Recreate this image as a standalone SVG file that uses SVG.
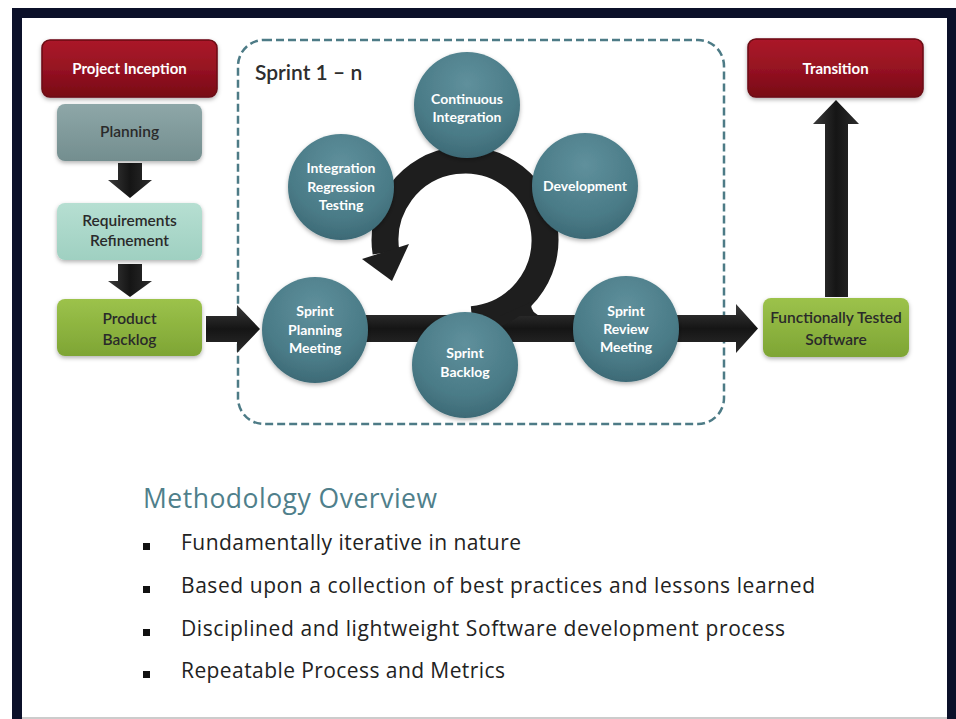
<svg xmlns="http://www.w3.org/2000/svg" width="956" height="719" viewBox="0 0 956 719">
<style>
.lbl{font-family:Lato,"Liberation Sans",sans-serif;text-anchor:middle}
.white{fill:#ffffff;font-weight:bold;font-size:15px}
.dark{fill:#2a2a2a;font-size:15.5px;font-weight:600}
.circ{fill:#ffffff;font-weight:bold;font-size:14px}
.body{font-family:"Open Sans","Liberation Sans",sans-serif;fill:#222;font-size:21px}
.arrow{fill:url(#gArrowH)}
.varrow{fill:url(#gArrowV)}
.bubble{fill:url(#gCirc);filter:url(#sh)}
</style>
<defs>
<linearGradient id="gRed" x1="0" y1="0" x2="0" y2="1"><stop offset="0" stop-color="#ab1729"/><stop offset="0.5" stop-color="#961222"/><stop offset="1" stop-color="#780a15"/></linearGradient>
<linearGradient id="gGray" x1="0" y1="0" x2="0" y2="1"><stop offset="0" stop-color="#8ea7a8"/><stop offset="1" stop-color="#738e8f"/></linearGradient>
<linearGradient id="gMint" x1="0" y1="0" x2="0" y2="1"><stop offset="0" stop-color="#b6dfd2"/><stop offset="1" stop-color="#9fd0c1"/></linearGradient>
<linearGradient id="gGreen" x1="0" y1="0" x2="0" y2="1"><stop offset="0" stop-color="#9cc24b"/><stop offset="1" stop-color="#7ea534"/></linearGradient>
<radialGradient id="gCirc" cx="0.5" cy="0.3" r="0.7"><stop offset="0" stop-color="#5f909c"/><stop offset="0.7" stop-color="#4a7b87"/><stop offset="1" stop-color="#3d6a76"/></radialGradient>
<linearGradient id="gArrowH" x1="0" y1="0" x2="0" y2="1"><stop offset="0" stop-color="#3a3a3a"/><stop offset="0.5" stop-color="#151515"/><stop offset="1" stop-color="#2c2c2c"/></linearGradient>
<linearGradient id="gArrowV" x1="0" y1="0" x2="1" y2="0"><stop offset="0" stop-color="#3a3a3a"/><stop offset="0.5" stop-color="#151515"/><stop offset="1" stop-color="#2c2c2c"/></linearGradient>
<filter id="sh" x="-20%" y="-20%" width="140%" height="150%"><feDropShadow dx="0" dy="2" stdDeviation="2" flood-color="#000" flood-opacity="0.3"/></filter>
</defs>

<rect x="0" y="0" width="956" height="719" fill="#ffffff"/>
<rect x="12" y="8" width="944" height="711" fill="#0b1029"/>
<rect x="22" y="18" width="925" height="701" fill="#ffffff"/>
<rect x="22" y="717" width="925" height="2" fill="#cccccc"/>

<g id="sprint-boundary">
<rect x="238" y="40" width="486" height="384" rx="26" fill="none" stroke="#4d7b86" stroke-width="2.5" stroke-dasharray="8 4"/>
<text x="255" y="80" style="font-family:Lato,'Liberation Sans',sans-serif;font-size:21px;fill:#2e2e2e;font-weight:600">Sprint 1 – n</text>
</g>

<g id="connectors">
<path class="varrow" d="M118 163H142V180H152L130 198L108 180H118Z"/>
<path class="varrow" d="M118 264H142V281H152L130 297L108 281H118Z"/>
<path class="arrow" d="M206 316H237V305L260 329L237 353V342H206Z"/>
<path class="arrow" d="M300 315H736V304L758 328.5L736 353V342H300Z"/>
<path d="M472 319.7A80 80 0 1 0 386 252.5" fill="none" stroke="#1e1e1e" stroke-width="27"/>
<path d="M531 302Q530 314 542 316L500 316Z" fill="#1e1e1e"/>
<path d="M362 259L409 244L392 281Z" fill="#1e1e1e"/>
<path class="varrow" d="M825 297V124H813L836 100L859 124H848V297Z"/>
</g>

<g id="project-inception">
<rect x="42" y="40" width="175" height="57" rx="8" fill="url(#gRed)" stroke="#6a0912" stroke-width="1.5" filter="url(#sh)"/>
<text class="lbl white" x="129.5" y="74">Project Inception</text>
</g>
<g id="planning">
<rect x="57" y="104" width="145" height="57" rx="8" fill="url(#gGray)" filter="url(#sh)"/>
<text class="lbl dark" x="129.5" y="137">Planning</text>
</g>
<g id="requirements-refinement">
<rect x="57" y="203" width="145" height="57" rx="8" fill="url(#gMint)" filter="url(#sh)"/>
<text class="lbl dark" x="129.5" y="226">Requirements</text>
<text class="lbl dark" x="129.5" y="246">Refinement</text>
</g>
<g id="product-backlog">
<rect x="57" y="299" width="145" height="57" rx="8" fill="url(#gGreen)" filter="url(#sh)"/>
<text class="lbl dark" x="129.5" y="324">Product</text>
<text class="lbl dark" x="129.5" y="345">Backlog</text>
</g>

<g id="continuous-integration">
<circle class="bubble" cx="467" cy="105" r="53"/>
<text class="lbl circ" x="467" y="104">Continuous</text>
<text class="lbl circ" x="467" y="122">Integration</text>
</g>
<g id="development">
<circle class="bubble" cx="585" cy="186" r="53"/>
<text class="lbl circ" x="585" y="191">Development</text>
</g>
<g id="integration-regression-testing">
<circle class="bubble" cx="341" cy="187" r="53"/>
<text class="lbl circ" x="341" y="173">Integration</text>
<text class="lbl circ" x="341" y="192">Regression</text>
<text class="lbl circ" x="341" y="210">Testing</text>
</g>
<g id="sprint-planning-meeting">
<circle class="bubble" cx="315" cy="330" r="53"/>
<text class="lbl circ" x="315" y="316">Sprint</text>
<text class="lbl circ" x="315" y="335">Planning</text>
<text class="lbl circ" x="315" y="353">Meeting</text>
</g>
<g id="sprint-backlog">
<circle class="bubble" cx="465" cy="365" r="53"/>
<text class="lbl circ" x="465" y="358">Sprint</text>
<text class="lbl circ" x="465" y="377">Backlog</text>
</g>
<g id="sprint-review-meeting">
<circle class="bubble" cx="626" cy="329" r="53"/>
<text class="lbl circ" x="626" y="316">Sprint</text>
<text class="lbl circ" x="626" y="334">Review</text>
<text class="lbl circ" x="626" y="352">Meeting</text>
</g>

<g id="transition">
<rect x="748" y="39" width="175" height="58" rx="8" fill="url(#gRed)" stroke="#6a0912" stroke-width="1.5" filter="url(#sh)"/>
<text class="lbl white" x="835.5" y="74">Transition</text>
</g>
<g id="functionally-tested-software">
<rect x="763" y="298" width="146" height="59" rx="8" fill="url(#gGreen)" filter="url(#sh)"/>
<text class="lbl dark" x="836" y="323">Functionally Tested</text>
<text class="lbl dark" x="836" y="345">Software</text>
</g>

<g id="overview">
<text x="143" y="508" textLength="294" style="font-family:'Open Sans','Liberation Sans',sans-serif;font-size:26.5px;fill:#4f7f8b">Methodology Overview</text>
<rect x="143" y="543" width="7" height="7" fill="#111"/>
<text class="body" x="181" y="550" textLength="340">Fundamentally iterative in nature</text>
<rect x="143" y="586" width="7" height="7" fill="#111"/>
<text class="body" x="181" y="593" textLength="634">Based upon a collection of best practices and lessons learned</text>
<rect x="143" y="629" width="7" height="7" fill="#111"/>
<text class="body" x="181" y="636" textLength="604">Disciplined and lightweight Software development process</text>
<rect x="143" y="671" width="7" height="7" fill="#111"/>
<text class="body" x="181" y="678" textLength="324">Repeatable Process and Metrics</text>
</g>
</svg>
